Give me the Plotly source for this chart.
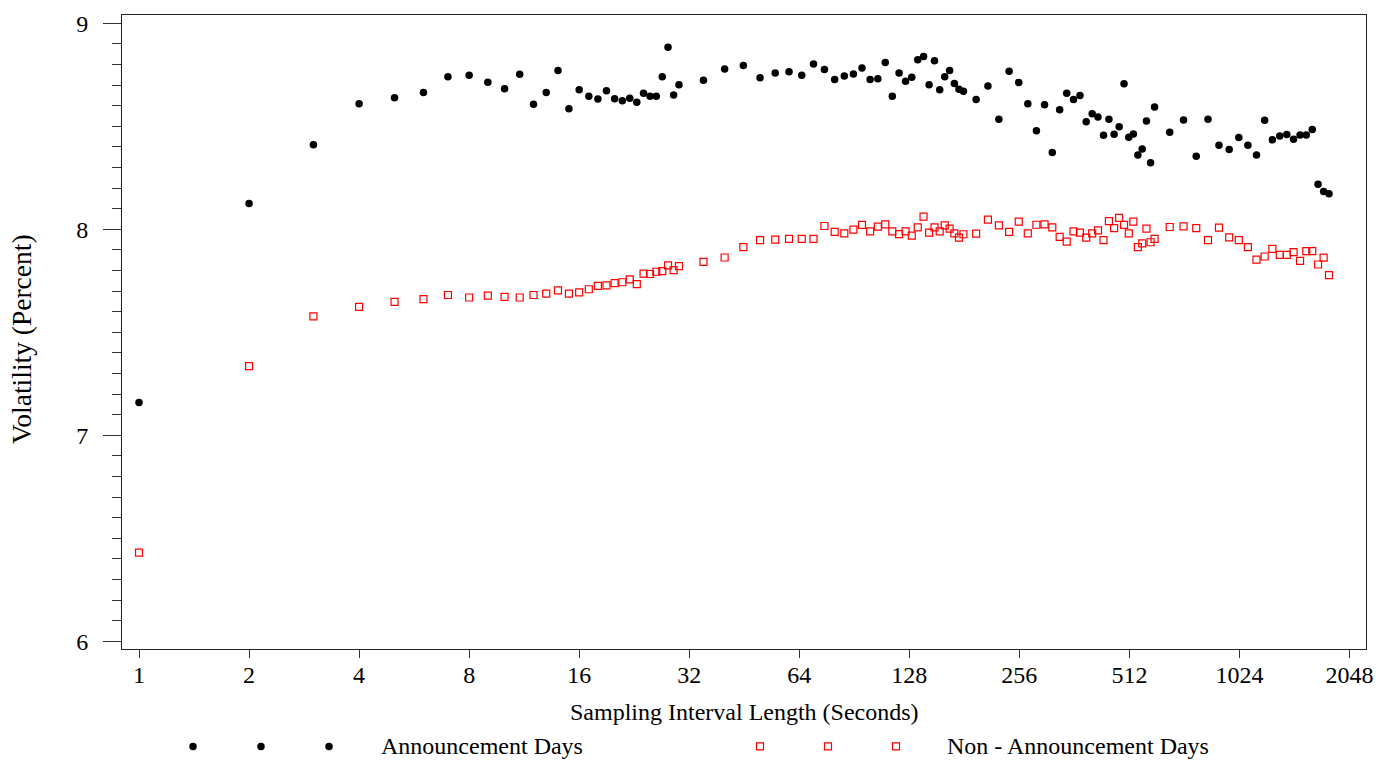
import plotly.graph_objects as go

# Sampling interval lengths (seconds)
interval_seconds = [
    1, 2, 3, 4, 5, 6, 7, 8, 9, 10, 11, 12, 13, 14, 15, 16, 17, 18, 19, 20,
    21, 22, 23, 24, 25, 26, 27, 28, 29, 30,
    35, 40, 45, 50, 55, 60, 65, 70, 75, 80, 85, 90, 95, 100, 105, 110, 115,
    120, 125, 130, 135, 140, 145, 150, 155, 160, 165, 170, 175, 180,
    195, 210, 225, 240, 255, 270, 285, 300, 315, 330, 345, 360, 375, 390,
    405, 420, 435, 450, 465, 480, 495, 510, 525, 540, 555, 570, 585, 600,
    660, 720, 780, 840, 900, 960, 1020, 1080, 1140, 1200, 1260, 1320, 1380,
    1440, 1500, 1560, 1620, 1680, 1740, 1800,
]

# Volatility (percent) on announcement days
announcement_vol = [
    7.159, 8.125, 8.410, 8.609, 8.638, 8.664, 8.740, 8.747, 8.714, 8.682,
    8.752, 8.607, 8.664, 8.771, 8.585, 8.677, 8.646, 8.632, 8.672, 8.633,
    8.624, 8.636, 8.616, 8.660, 8.646, 8.646, 8.740, 8.884, 8.652, 8.702,
    8.723, 8.778, 8.795, 8.736, 8.759, 8.764, 8.747, 8.802, 8.775, 8.727,
    8.744, 8.754, 8.783, 8.727, 8.731, 8.810, 8.646, 8.759, 8.718, 8.738,
    8.823, 8.839, 8.702, 8.818, 8.677, 8.740, 8.771, 8.707, 8.680, 8.670,
    8.630, 8.696, 8.534, 8.767, 8.712, 8.609, 8.478, 8.604, 8.373, 8.580,
    8.660, 8.630, 8.649, 8.522, 8.561, 8.545, 8.456, 8.534, 8.461, 8.498,
    8.706, 8.447, 8.463, 8.360, 8.390, 8.526, 8.323, 8.593,
    8.471, 8.530, 8.354, 8.534, 8.408, 8.387, 8.445, 8.408, 8.361, 8.529,
    8.434, 8.453, 8.460, 8.437, 8.458, 8.458, 8.484, 8.219, 8.183, 8.173,
]

# Volatility (percent) on non-announcement days
non_announcement_vol = [
    6.431, 7.336, 7.577, 7.623, 7.648, 7.661, 7.681, 7.669, 7.678, 7.672,
    7.669, 7.681, 7.688, 7.704, 7.688, 7.694, 7.709, 7.725, 7.728, 7.739,
    7.743, 7.757, 7.734, 7.785, 7.783, 7.794, 7.797, 7.825, 7.802, 7.821,
    7.842, 7.863, 7.913, 7.947, 7.950, 7.953, 7.953, 7.953, 8.016, 7.987,
    7.980, 7.998, 8.021, 7.990, 8.013, 8.024, 7.990, 7.977, 7.990, 7.969,
    8.009, 8.061, 7.984, 8.009, 7.990, 8.019, 8.003, 7.980, 7.960, 7.976,
    7.979, 8.047, 8.019, 7.987, 8.037, 7.980, 8.022, 8.024, 8.009, 7.963,
    7.940, 7.990, 7.984, 7.960, 7.980, 7.995, 7.947, 8.040, 8.006, 8.055,
    8.021, 7.980, 8.037, 7.913, 7.932, 8.003, 7.937, 7.953,
    8.011, 8.014, 8.006, 7.947, 8.008, 7.961, 7.947, 7.913, 7.853, 7.868,
    7.905, 7.876, 7.876, 7.889, 7.847, 7.894, 7.894, 7.829, 7.862, 7.778,
]

x_tick_values = [1, 2, 4, 8, 16, 32, 64, 128, 256, 512, 1024, 2048]
x_tick_labels = ["1", "2", "4", "8", "16", "32", "64", "128", "256", "512", "1024", "2048"]
y_tick_values = [6, 7, 8, 9]
y_tick_labels = ["6", "7", "8", "9"]

series_names = ["Announcement Days", "Non - Announcement Days"]

FONT = "Liberation Serif"
W, H = 1390, 763
ML, MR, MT, MB = 122, 24, 11, 114
PW, PH = W - ML - MR, H - MT - MB


def px_to_paper_x(px):
    return (px - ML) / PW


def px_to_paper_y(py):
    return (H - MB - py) / PH


fig = go.Figure()
fig.add_trace(go.Scatter(
    x=interval_seconds, y=announcement_vol, mode="markers",
    name=series_names[0],
    marker=dict(symbol="circle", size=7.5, color="black", line=dict(width=0)),
    showlegend=False,
))
fig.add_trace(go.Scatter(
    x=interval_seconds, y=non_announcement_vol, mode="markers",
    name=series_names[1],
    marker=dict(symbol="square-open", size=7, color="#ff0000", line=dict(width=1.2, color="#ff0000")),
    showlegend=False,
))

# log2 range -0.1545 .. 11.15 expressed in log10
L2 = 0.30103
fig.update_xaxes(
    type="log",
    range=[-0.1545 * L2, 11.15 * L2],
    tickvals=x_tick_values, ticktext=x_tick_labels,
    ticks="outside", ticklen=8, tickwidth=1, tickcolor="#333",
    showline=True, linecolor="#222", linewidth=1, mirror=True,
    showgrid=False, zeroline=False,
    tickfont=dict(family=FONT, size=24, color="black"),
    ticklabelstandoff=-4,
)
fig.update_yaxes(
    range=[5.963, 9.040],
    tickvals=y_tick_values, ticktext=y_tick_labels,
    ticks="outside", ticklen=18, tickwidth=1, tickcolor="#333",
    minor=dict(dtick=0.1, tick0=6, ticks="outside", ticklen=9, tickwidth=1, tickcolor="#333", showgrid=False),
    showline=True, linecolor="#222", linewidth=1, mirror=True,
    showgrid=False, zeroline=False,
    tickfont=dict(family=FONT, size=24, color="black"),
    ticklabelstandoff=10,
)

annotations = [
    dict(text="Sampling Interval Length (Seconds)", xref="paper", yref="paper",
         x=0.5, y=px_to_paper_y(712), xanchor="center", yanchor="middle",
         showarrow=False, font=dict(family=FONT, size=24, color="black")),
    dict(text="Volatility (Percent)", xref="paper", yref="paper",
         x=px_to_paper_x(22), y=px_to_paper_y(337), xanchor="center", yanchor="middle",
         textangle=-90, showarrow=False, font=dict(family=FONT, size=27.5, color="black")),
    dict(text=series_names[0], xref="paper", yref="paper",
         x=px_to_paper_x(379), y=px_to_paper_y(747), xanchor="left", yanchor="middle",
         showarrow=False, font=dict(family=FONT, size=24, color="black")),
    dict(text=series_names[1], xref="paper", yref="paper",
         x=px_to_paper_x(945), y=px_to_paper_y(747), xanchor="left", yanchor="middle",
         showarrow=False, font=dict(family=FONT, size=24, color="black")),
]

shapes = []
for gx in [193, 261, 329]:
    shapes.append(dict(type="circle", xref="paper", yref="paper",
                       xsizemode="pixel", ysizemode="pixel",
                       xanchor=px_to_paper_x(gx), yanchor=px_to_paper_y(747),
                       x0=-3.75, x1=3.75, y0=-3.75, y1=3.75,
                       fillcolor="black", line=dict(width=0)))
for gx in [760, 828, 896]:
    shapes.append(dict(type="rect", xref="paper", yref="paper",
                       xsizemode="pixel", ysizemode="pixel",
                       xanchor=px_to_paper_x(gx), yanchor=px_to_paper_y(747),
                       x0=-3.5, x1=3.5, y0=-3.5, y1=3.5,
                       fillcolor="rgba(0,0,0,0)", line=dict(width=1.2, color="#ff0000")))

fig.update_layout(
    width=W, height=H,
    margin=dict(l=ML, r=MR, t=MT, b=MB),
    paper_bgcolor="white", plot_bgcolor="white",
    showlegend=False,
    annotations=annotations, shapes=shapes,
    font=dict(family=FONT, color="black"),
)

fig.write_html(
    "out.html",
    config={"displayModeBar": False},
    post_script="document.body.style.margin='0px';document.body.style.overflow='hidden';",
)
